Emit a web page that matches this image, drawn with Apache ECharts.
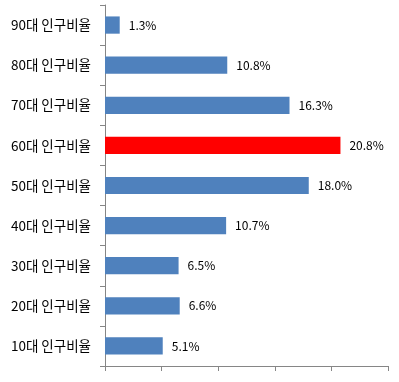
<!DOCTYPE html>
<html><head><meta charset="utf-8">
<script src="https://cdn.jsdelivr.net/npm/echarts@6/dist/echarts.min.js"></script>
<style>html,body{margin:0;padding:0;background:#fff}#c{width:399px;height:382px}</style>
</head><body><div id="c"></div>
<script>
const categories = ['10대 인구비율','20대 인구비율','30대 인구비율','40대 인구비율','50대 인구비율','60대 인구비율','70대 인구비율','80대 인구비율','90대 인구비율'];
const values = [5.1, 6.6, 6.5, 10.7, 18.0, 20.8, 16.3, 10.8, 1.3];
const highlight = '60대 인구비율';
const chart = echarts.init(document.getElementById('c'));
const axisColor = '#868686';
chart.setOption({
  animation: false,
  grid: {left: 105, right: 11, top: 5, bottom: 16, containLabel: false},
  xAxis: {
    type: 'value', min: 0, max: 25, interval: 5,
    axisLine: {show: true, lineStyle: {color: axisColor}},
    axisTick: {show: true, length: 5, lineStyle: {color: axisColor}},
    axisLabel: {show: false},
    splitLine: {show: false}
  },
  yAxis: {
    type: 'category', data: categories,
    axisLine: {show: true, lineStyle: {color: axisColor}},
    axisTick: {show: true, length: 5, lineStyle: {color: axisColor}},
    axisLabel: {color: '#000', fontSize: 13.5, margin: 14, fontFamily: '"Noto Sans CJK KR", sans-serif'}
  },
  series: [{
    type: 'bar', barCategoryGap: '57%',
    data: categories.map((c, i) => ({value: values[i], itemStyle: {color: c === highlight ? '#FF0000' : '#4F81BD'}})),
    label: {show: true, position: 'right', distance: 9, color: '#000', fontSize: 12,
      fontFamily: '"Noto Sans CJK KR", sans-serif',
      formatter: p => p.value.toFixed(1) + '%'}
  }]
});
</script></body></html>
